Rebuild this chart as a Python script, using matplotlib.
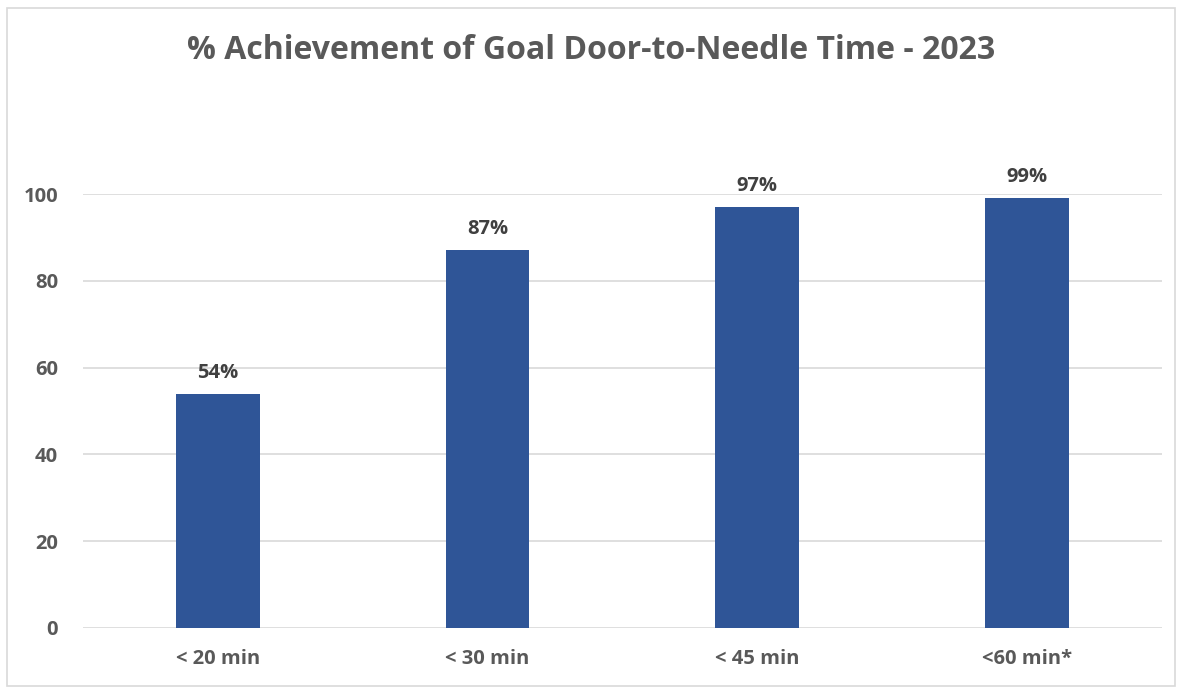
import matplotlib.pyplot as plt
from matplotlib.patches import Rectangle

categories = ['< 20 min', '< 30 min', '< 45 min', '<60 min*']
values = [54, 87, 97, 99]
labels = ['54%', '87%', '97%', '99%']
yticks = [0, 20, 40, 60, 80, 100]

plt.rcParams['font.family'] = ['Open Sans', 'DejaVu Sans']

fig = plt.figure(figsize=(11.82, 6.9), dpi=100)
fig.patches.append(Rectangle((0.006, 0.006), 0.988, 0.982, transform=fig.transFigure,
                             fill=False, edgecolor='#D9D9D9', linewidth=1.2))

ax = fig.add_axes([0.0702, 0.0899, 0.9128, 0.6289])
x = range(len(categories))
ax.bar(x, values, width=0.31, color='#2F5597', zorder=3)

for xi, v, lab in zip(x, values, labels):
    ax.annotate(lab, (xi, v), xytext=(0, 8), textcoords='offset points',
                ha='center', va='bottom', fontsize=14.5, fontweight='bold', color='#404040')

ax.set_xlim(-0.5, 3.5)
ax.set_ylim(0, 100)
ax.set_yticks(yticks)
ax.set_xticks(list(x))
ax.set_xticklabels(categories)
ax.grid(axis='y', color='#D9D9D9', linewidth=1.2, zorder=0)
for s in ['top', 'right', 'left', 'bottom']:
    ax.spines[s].set_visible(False)
ax.tick_params(axis='both', length=0, labelsize=14.5, labelcolor='#595959')
ax.tick_params(axis='y', pad=18)
ax.tick_params(axis='x', pad=15)
for t in ax.get_xticklabels() + ax.get_yticklabels():
    t.set_fontweight('bold')

fig.text(0.5, 0.927, '% Achievement of Goal Door-to-Needle Time - 2023', ha='center', va='center',
         fontsize=23, fontweight='bold', color='#595959')

plt.savefig('out.png', dpi=100)
plt.close()
